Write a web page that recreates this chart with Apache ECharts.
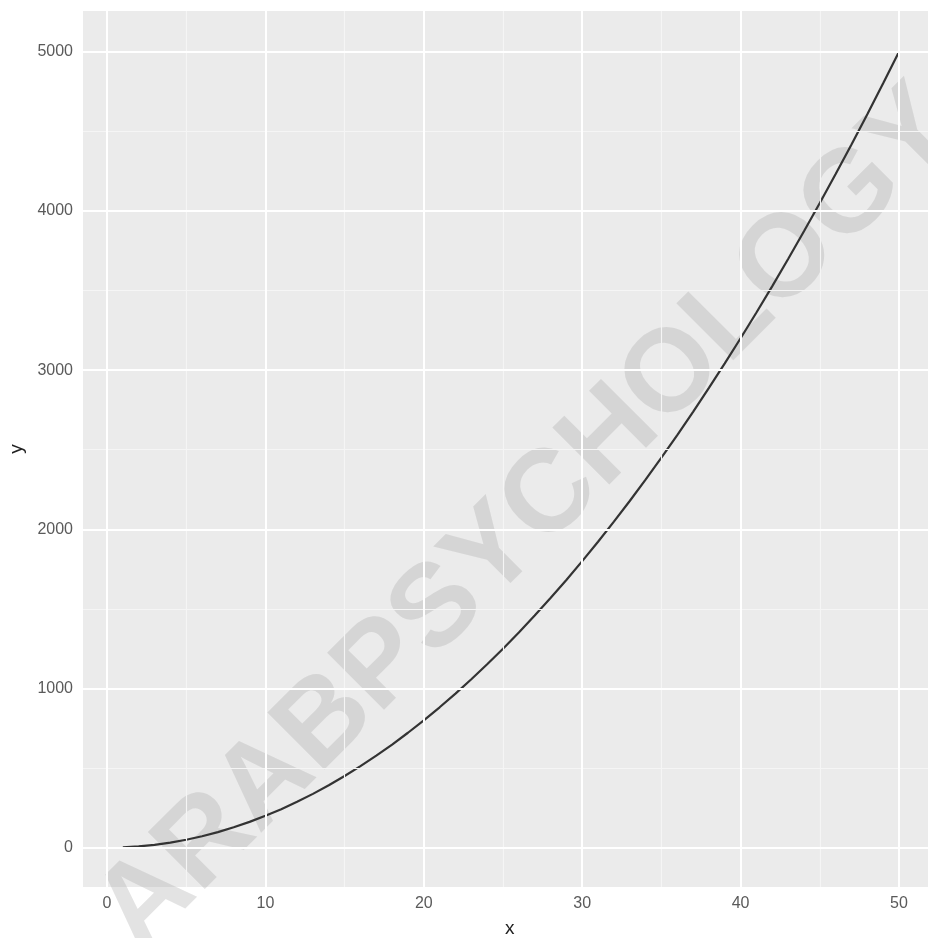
<!DOCTYPE html>
<html>
<head>
<meta charset="utf-8">
<script src="https://cdn.jsdelivr.net/npm/echarts@6/dist/echarts.min.js"></script>
<style>
html,body{margin:0;padding:0;background:#fff;}
#c{width:928px;height:938px;}
</style>
</head>
<body>
<div id="c"></div>
<script>
// ---- data ----
const xValues = [1,2,3,4,5,6,7,8,9,10,11,12,13,14,15,16,17,18,19,20,21,22,23,24,25,26,27,28,29,30,31,32,33,34,35,36,37,38,39,40,41,42,43,44,45,46,47,48,49,50];
const yValues = [2,8,18,32,50,72,98,128,162,200,242,288,338,392,450,512,578,648,722,800,882,968,1058,1152,1250,1352,1458,1568,1682,1800,1922,2048,2178,2312,2450,2592,2738,2888,3042,3200,3362,3528,3698,3872,4050,4232,4418,4608,4802,5000];
const xTicks = [0,10,20,30,40,50];
const xMinor = [5,15,25,35,45];
const yTicks = [0,1000,2000,3000,4000,5000];
const yMinor = [500,1500,2500,3500,4500];
const xTitle = 'x';
const yTitle = 'y';
const watermark = 'ARABPSYCHOLOGY';

const chart = echarts.init(document.getElementById('c'), null, {renderer:'canvas'});
const labelColor = '#5a5a5a';
const font = 'Liberation Sans, Arial, sans-serif';

function vLines(vals, key, color, width){
  return vals.map(v => ({[key]: v, lineStyle:{color:color, width:width, type:'solid'}}));
}

const option = {
  animation:false,
  backgroundColor:'#ffffff',
  grid:{left:83, top:11, right:0, bottom:51, show:true, backgroundColor:'#ebebeb', borderWidth:0},
  xAxis:{
    type:'value', min:-1.515, max:51.83,
    splitLine:{show:false},
    axisLine:{show:true, lineStyle:{color:'rgba(0,0,0,0)'}},
    axisTick:{show:true, customValues:xTicks, length:4, lineStyle:{color:'#333333', width:1.5}},
    axisLabel:{customValues:xTicks, formatter:v=>String(v), color:labelColor, fontSize:16, fontFamily:font, margin:9}
  },
  yAxis:{
    type:'value', min:-247, max:5256,
    splitLine:{show:false},
    axisLine:{show:true, lineStyle:{color:'rgba(0,0,0,0)'}},
    axisTick:{show:true, customValues:yTicks, length:4, lineStyle:{color:'#333333', width:1.5}},
    axisLabel:{customValues:yTicks, formatter:v=>String(v), color:labelColor, fontSize:16, fontFamily:font, margin:10}
  },
  graphic:[
    {type:'text', left:505, top:919, z:5, style:{text:xTitle, fill:'#222222', font:'19px ' + font}},
    {type:'text', x:17, y:449, rotation:Math.PI/2, z:5, style:{text:yTitle, fill:'#222222', font:'19px ' + font, textAlign:'center', textVerticalAlign:'middle'}},
    {type:'text', x:528, y:520, rotation:Math.PI/4, z:2, silent:true,
     style:{text:watermark, fill:'rgba(170,170,170,0.33)', font:'bold 117px ' + font, textAlign:'center', textVerticalAlign:'middle'}}
  ],
  series:[
    {
      type:'line', data:[], z:1, silent:true,
      markLine:{
        silent:true, symbol:'none', label:{show:false}, animation:false,
        data:[].concat(
          vLines(xMinor,'xAxis','#f5f5f5',1.1),
          vLines(yMinor,'yAxis','#f5f5f5',1.1),
          vLines(xTicks,'xAxis','#ffffff',2),
          vLines(yTicks,'yAxis','#ffffff',2)
        )
      }
    },
    {
      type:'line', z:3,
      data:xValues.map((x,i)=>[x,yValues[i]]),
      showSymbol:false, symbol:'none',
      lineStyle:{color:'#333333', width:2.2},
      smooth:false
    }
  ]
};
chart.setOption(option);
</script>
</body>
</html>
